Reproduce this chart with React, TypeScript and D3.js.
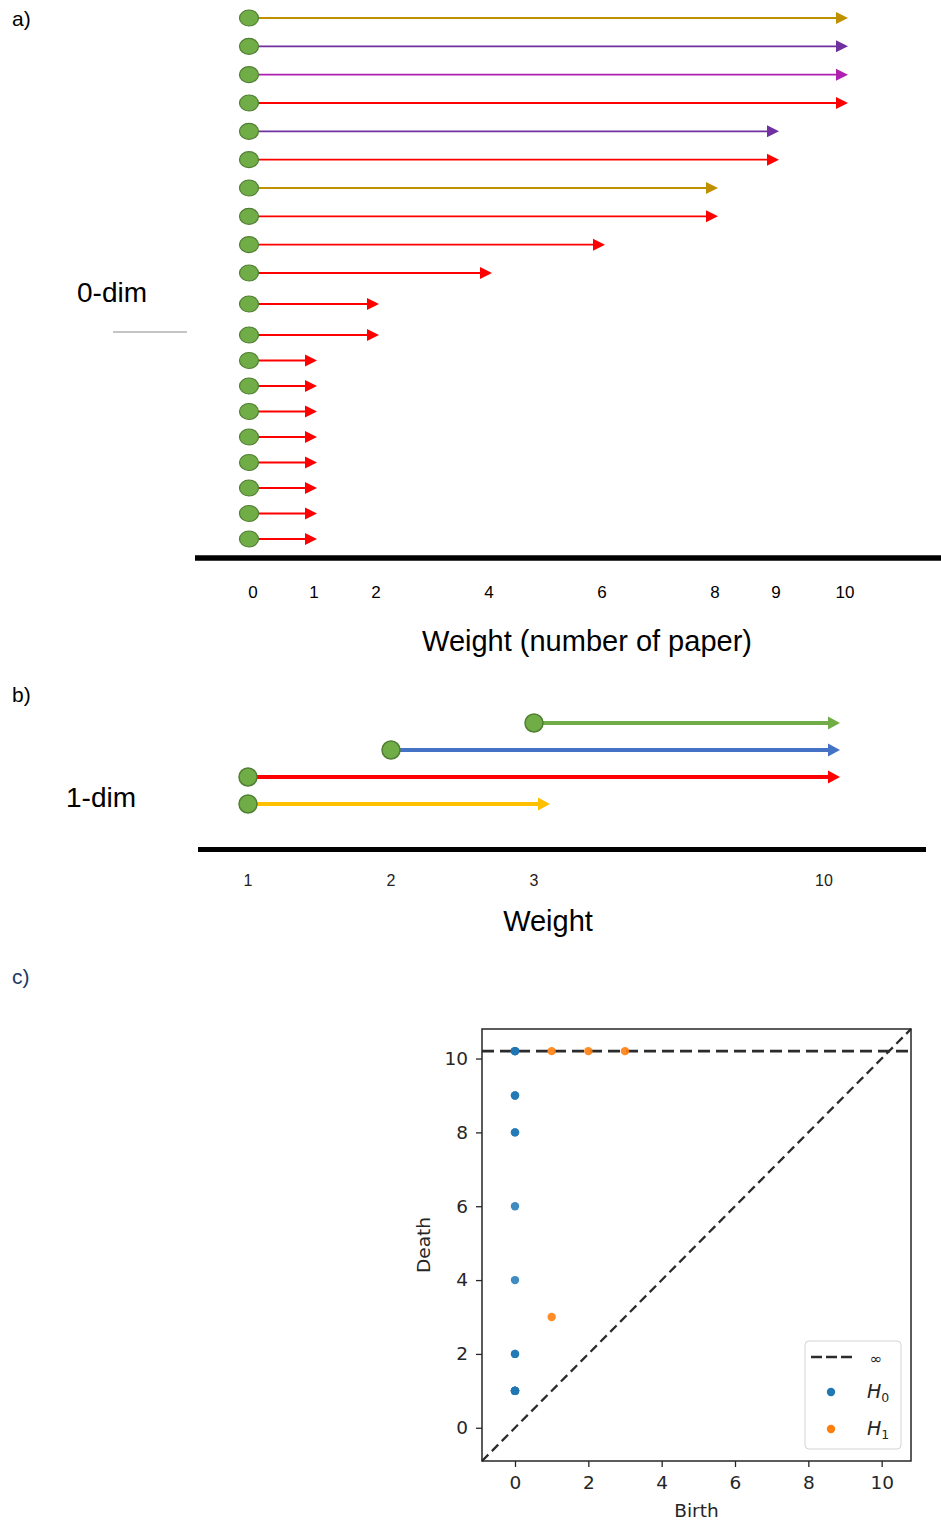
import * as d3 from 'd3';
import { useEffect, useRef } from 'react';

// a) 0-dim barcode, every bar is born at 0
const dim0Deaths = [10, 10, 10, 10, 9, 9, 8, 8, 6, 4, 2, 2, 1, 1, 1, 1, 1, 1, 1, 1];
const dim0Colors = [
  '#BF9000', '#7030A0', '#B020B0', '#FF0000', '#7030A0', '#FF0000', '#BF9000',
  '#FF0000', '#FF0000', '#FF0000', '#FF0000', '#FF0000', '#FF0000', '#FF0000',
  '#FF0000', '#FF0000', '#FF0000', '#FF0000', '#FF0000', '#FF0000'
];
const dim0Ticks = [0, 1, 2, 4, 6, 8, 9, 10];

// b) 1-dim barcode
const dim1Births = [3, 2, 1, 1];
const dim1Deaths = [10, 10, 10, 3];
const dim1Colors = ['#70AD47', '#4472C4', '#FF0000', '#FFC000'];
const dim1Ticks = [1, 2, 3, 10];

// c) persistence diagram (Infinity = never dies)
const h0Births = [0, 0, 0, 0, 0, 0, 0, 0, 0, 0, 0, 0, 0, 0, 0, 0, 0, 0, 0, 0];
const h0Deaths = [Infinity, Infinity, Infinity, Infinity, 9, 9, 8, 8, 6, 4, 2, 2, 1, 1, 1, 1, 1, 1, 1, 1];
const h1Births = [1, 2, 3, 1];
const h1Deaths = [Infinity, Infinity, Infinity, 3];
const diagramTicks = [0, 2, 4, 6, 8, 10];
const infLevel = 10.2;

const W = 941;
const H = 1523;
const GREEN = '#70AD47';
const GREEN_EDGE = '#507E32';
const SANS = 'Liberation Sans, Arial, sans-serif';
const MPL = 'DejaVu Sans, sans-serif';

function arrow(g: any, x1: number, tip: number, y: number, color: string, width: number, headLen: number, headHalf: number) {
  g.append('line')
    .attr('x1', x1)
    .attr('x2', tip - headLen + 1)
    .attr('y1', y)
    .attr('y2', y)
    .attr('stroke', color)
    .attr('stroke-width', width);
  g.append('path')
    .attr('d', `M${tip},${y}L${tip - headLen},${y - headHalf}L${tip - headLen},${y + headHalf}Z`)
    .attr('fill', color);
}

function label(svg: any, x: number, y: number, text: string, size: number, anchor = 'start', fill = '#000') {
  return svg.append('text')
    .attr('x', x)
    .attr('y', y)
    .attr('font-family', SANS)
    .attr('font-size', size)
    .attr('text-anchor', anchor)
    .attr('fill', fill)
    .text(text);
}

function drawPanelA(svg: any) {
  const x = d3.scaleLinear().domain(dim0Ticks).range([253, 314, 376, 489, 602, 715, 776, 845]);
  // rows are drawn a bit tighter at the bottom of the figure
  const y = d3.scaleLinear().domain([0, 9, 11, 19]).range([18, 273, 335, 539]);
  const g = svg.append('g');

  dim0Deaths.forEach((d, i) => {
    arrow(g, x(0) - 4, x(d) + 3, y(i), dim0Colors[i], 1.8, 12, 6);
  });
  dim0Deaths.forEach((d, i) => {
    g.append('ellipse')
      .attr('cx', x(0) - 4)
      .attr('cy', y(i))
      .attr('rx', 9.5)
      .attr('ry', 8)
      .attr('fill', GREEN)
      .attr('stroke', GREEN_EDGE)
      .attr('stroke-width', 1.2);
  });

  svg.append('line')
    .attr('x1', 195).attr('x2', W)
    .attr('y1', 558).attr('y2', 558)
    .attr('stroke', '#000').attr('stroke-width', 5.5);

  dim0Ticks.forEach((t) => label(svg, x(t), 598, String(t), 17, 'middle'));

  label(svg, 12, 26, 'a)', 21);
  label(svg, 77, 302, '0-dim', 28);
  svg.append('line')
    .attr('x1', 113).attr('x2', 187)
    .attr('y1', 332).attr('y2', 332)
    .attr('stroke', '#8a8a8a').attr('stroke-width', 1);
  label(svg, 587, 651, 'Weight (number of paper)', 29, 'middle');
}

function drawPanelB(svg: any) {
  const x = d3.scaleLinear().domain(dim1Ticks).range([248, 391, 534, 824]);
  const y = d3.scalePoint().domain(d3.range(dim1Births.length) as any).range([723, 804]);
  const g = svg.append('g');

  dim1Births.forEach((b, i) => {
    arrow(g, x(b), x(dim1Deaths[i]) + 16, y(i as any), dim1Colors[i], 4, 12, 6.5);
  });
  dim1Births.forEach((b, i) => {
    g.append('circle')
      .attr('cx', x(b))
      .attr('cy', y(i as any))
      .attr('r', 9)
      .attr('fill', GREEN)
      .attr('stroke', GREEN_EDGE)
      .attr('stroke-width', 1.5);
  });

  svg.append('line')
    .attr('x1', 198).attr('x2', 926)
    .attr('y1', 849.5).attr('y2', 849.5)
    .attr('stroke', '#000').attr('stroke-width', 5);

  dim1Ticks.forEach((t) => label(svg, x(t), 886, String(t), 16, 'middle', '#222'));

  label(svg, 12, 702, 'b)', 21);
  label(svg, 66, 807, '1-dim', 28);
  label(svg, 548, 931, 'Weight', 29, 'middle');
}

function drawPanelC(svg: any) {
  const left = 482, right = 911, top = 1029, bottom = 1461;
  const x = d3.scaleLinear().domain([-0.9, 10.8]).range([left, right]);
  const y = d3.scaleLinear().domain([-0.9, 10.8]).range([bottom, top]);
  const g = svg.append('g');

  label(svg, 12, 984, 'c)', 21, 'start', '#203864');

  // diagonal
  g.append('line')
    .attr('x1', x(-0.9)).attr('y1', y(-0.9))
    .attr('x2', x(10.8)).attr('y2', y(10.8))
    .attr('stroke', '#2b2b2b').attr('stroke-width', 2.3)
    .attr('stroke-dasharray', '9,5');

  // infinity line
  g.append('line')
    .attr('x1', left).attr('x2', right)
    .attr('y1', y(infLevel)).attr('y2', y(infLevel))
    .attr('stroke', '#2b2b2b').attr('stroke-width', 2.6)
    .attr('stroke-dasharray', '12,6');

  const toY = (d: number) => y(Number.isFinite(d) ? d : infLevel);

  h0Births.forEach((b, i) => {
    g.append('circle')
      .attr('cx', x(b)).attr('cy', toY(h0Deaths[i]))
      .attr('r', 4.2).attr('fill', '#1f77b4').attr('fill-opacity', 0.85);
  });
  h1Births.forEach((b, i) => {
    g.append('circle')
      .attr('cx', x(b)).attr('cy', toY(h1Deaths[i]))
      .attr('r', 4.2).attr('fill', '#ff7f0e').attr('fill-opacity', 0.9);
  });

  const xAxis = svg.append('g')
    .attr('transform', `translate(0,${bottom})`)
    .call(d3.axisBottom(x).tickValues(diagramTicks).tickSize(6).tickPadding(9).tickFormat(d3.format('d')));
  const yAxis = svg.append('g')
    .attr('transform', `translate(${left},0)`)
    .call(d3.axisLeft(y).tickValues(diagramTicks).tickSize(6).tickPadding(8).tickFormat(d3.format('d')));
  [xAxis, yAxis].forEach((a) => {
    a.attr('font-family', MPL).attr('font-size', 18.5);
    a.select('.domain').remove();
    a.selectAll('line').attr('stroke', '#262626').attr('stroke-width', 1.3);
    a.selectAll('text').attr('fill', '#262626');
  });

  svg.append('rect')
    .attr('x', left).attr('y', top)
    .attr('width', right - left).attr('height', bottom - top)
    .attr('fill', 'none').attr('stroke', '#262626').attr('stroke-width', 1.5);

  svg.append('text')
    .attr('transform', `translate(430,${(top + bottom) / 2}) rotate(-90)`)
    .attr('text-anchor', 'middle')
    .attr('font-family', MPL).attr('font-size', 18.5).attr('fill', '#262626')
    .text('Death');
  svg.append('text')
    .attr('x', (left + right) / 2).attr('y', 1517)
    .attr('text-anchor', 'middle')
    .attr('font-family', MPL).attr('font-size', 18.5).attr('fill', '#262626')
    .text('Birth');

  // legend
  const lg = svg.append('g');
  lg.append('rect')
    .attr('x', 805).attr('y', 1341).attr('width', 96).attr('height', 108)
    .attr('rx', 4).attr('fill', '#fff').attr('stroke', '#d4d4d4').attr('stroke-width', 1);
  lg.append('line')
    .attr('x1', 811).attr('x2', 852).attr('y1', 1357).attr('y2', 1357)
    .attr('stroke', '#2b2b2b').attr('stroke-width', 2.6).attr('stroke-dasharray', '11,4');
  lg.append('text')
    .attr('x', 876).attr('y', 1364).attr('text-anchor', 'middle')
    .attr('font-family', MPL).attr('font-size', 15).attr('fill', '#262626')
    .text('∞');
  [['#1f77b4', '0', 1392], ['#ff7f0e', '1', 1429]].forEach(([c, sub, cy]: any) => {
    lg.append('circle').attr('cx', 831).attr('cy', cy).attr('r', 4.2).attr('fill', c);
    const t = lg.append('text')
      .attr('x', 867).attr('y', cy + 6)
      .attr('font-family', MPL).attr('font-size', 19).attr('fill', '#262626');
    t.append('tspan').attr('font-style', 'italic').text('H');
    t.append('tspan').attr('font-size', 12.5).attr('dy', 4).text(sub);
  });
}

export default function App() {
  const ref = useRef<SVGSVGElement>(null);

  useEffect(() => {
    const svg = d3.select(ref.current);
    svg.selectAll('*').remove();
    svg.attr('width', W).attr('height', H);
    svg.append('rect').attr('width', W).attr('height', H).attr('fill', '#fff');
    drawPanelA(svg);
    drawPanelB(svg);
    drawPanelC(svg);
  }, []);

  return (
    <svg
      ref={ref}
      style={{ position: 'absolute', left: 0, top: 0, display: 'block' }}
    ></svg>
  );
}
